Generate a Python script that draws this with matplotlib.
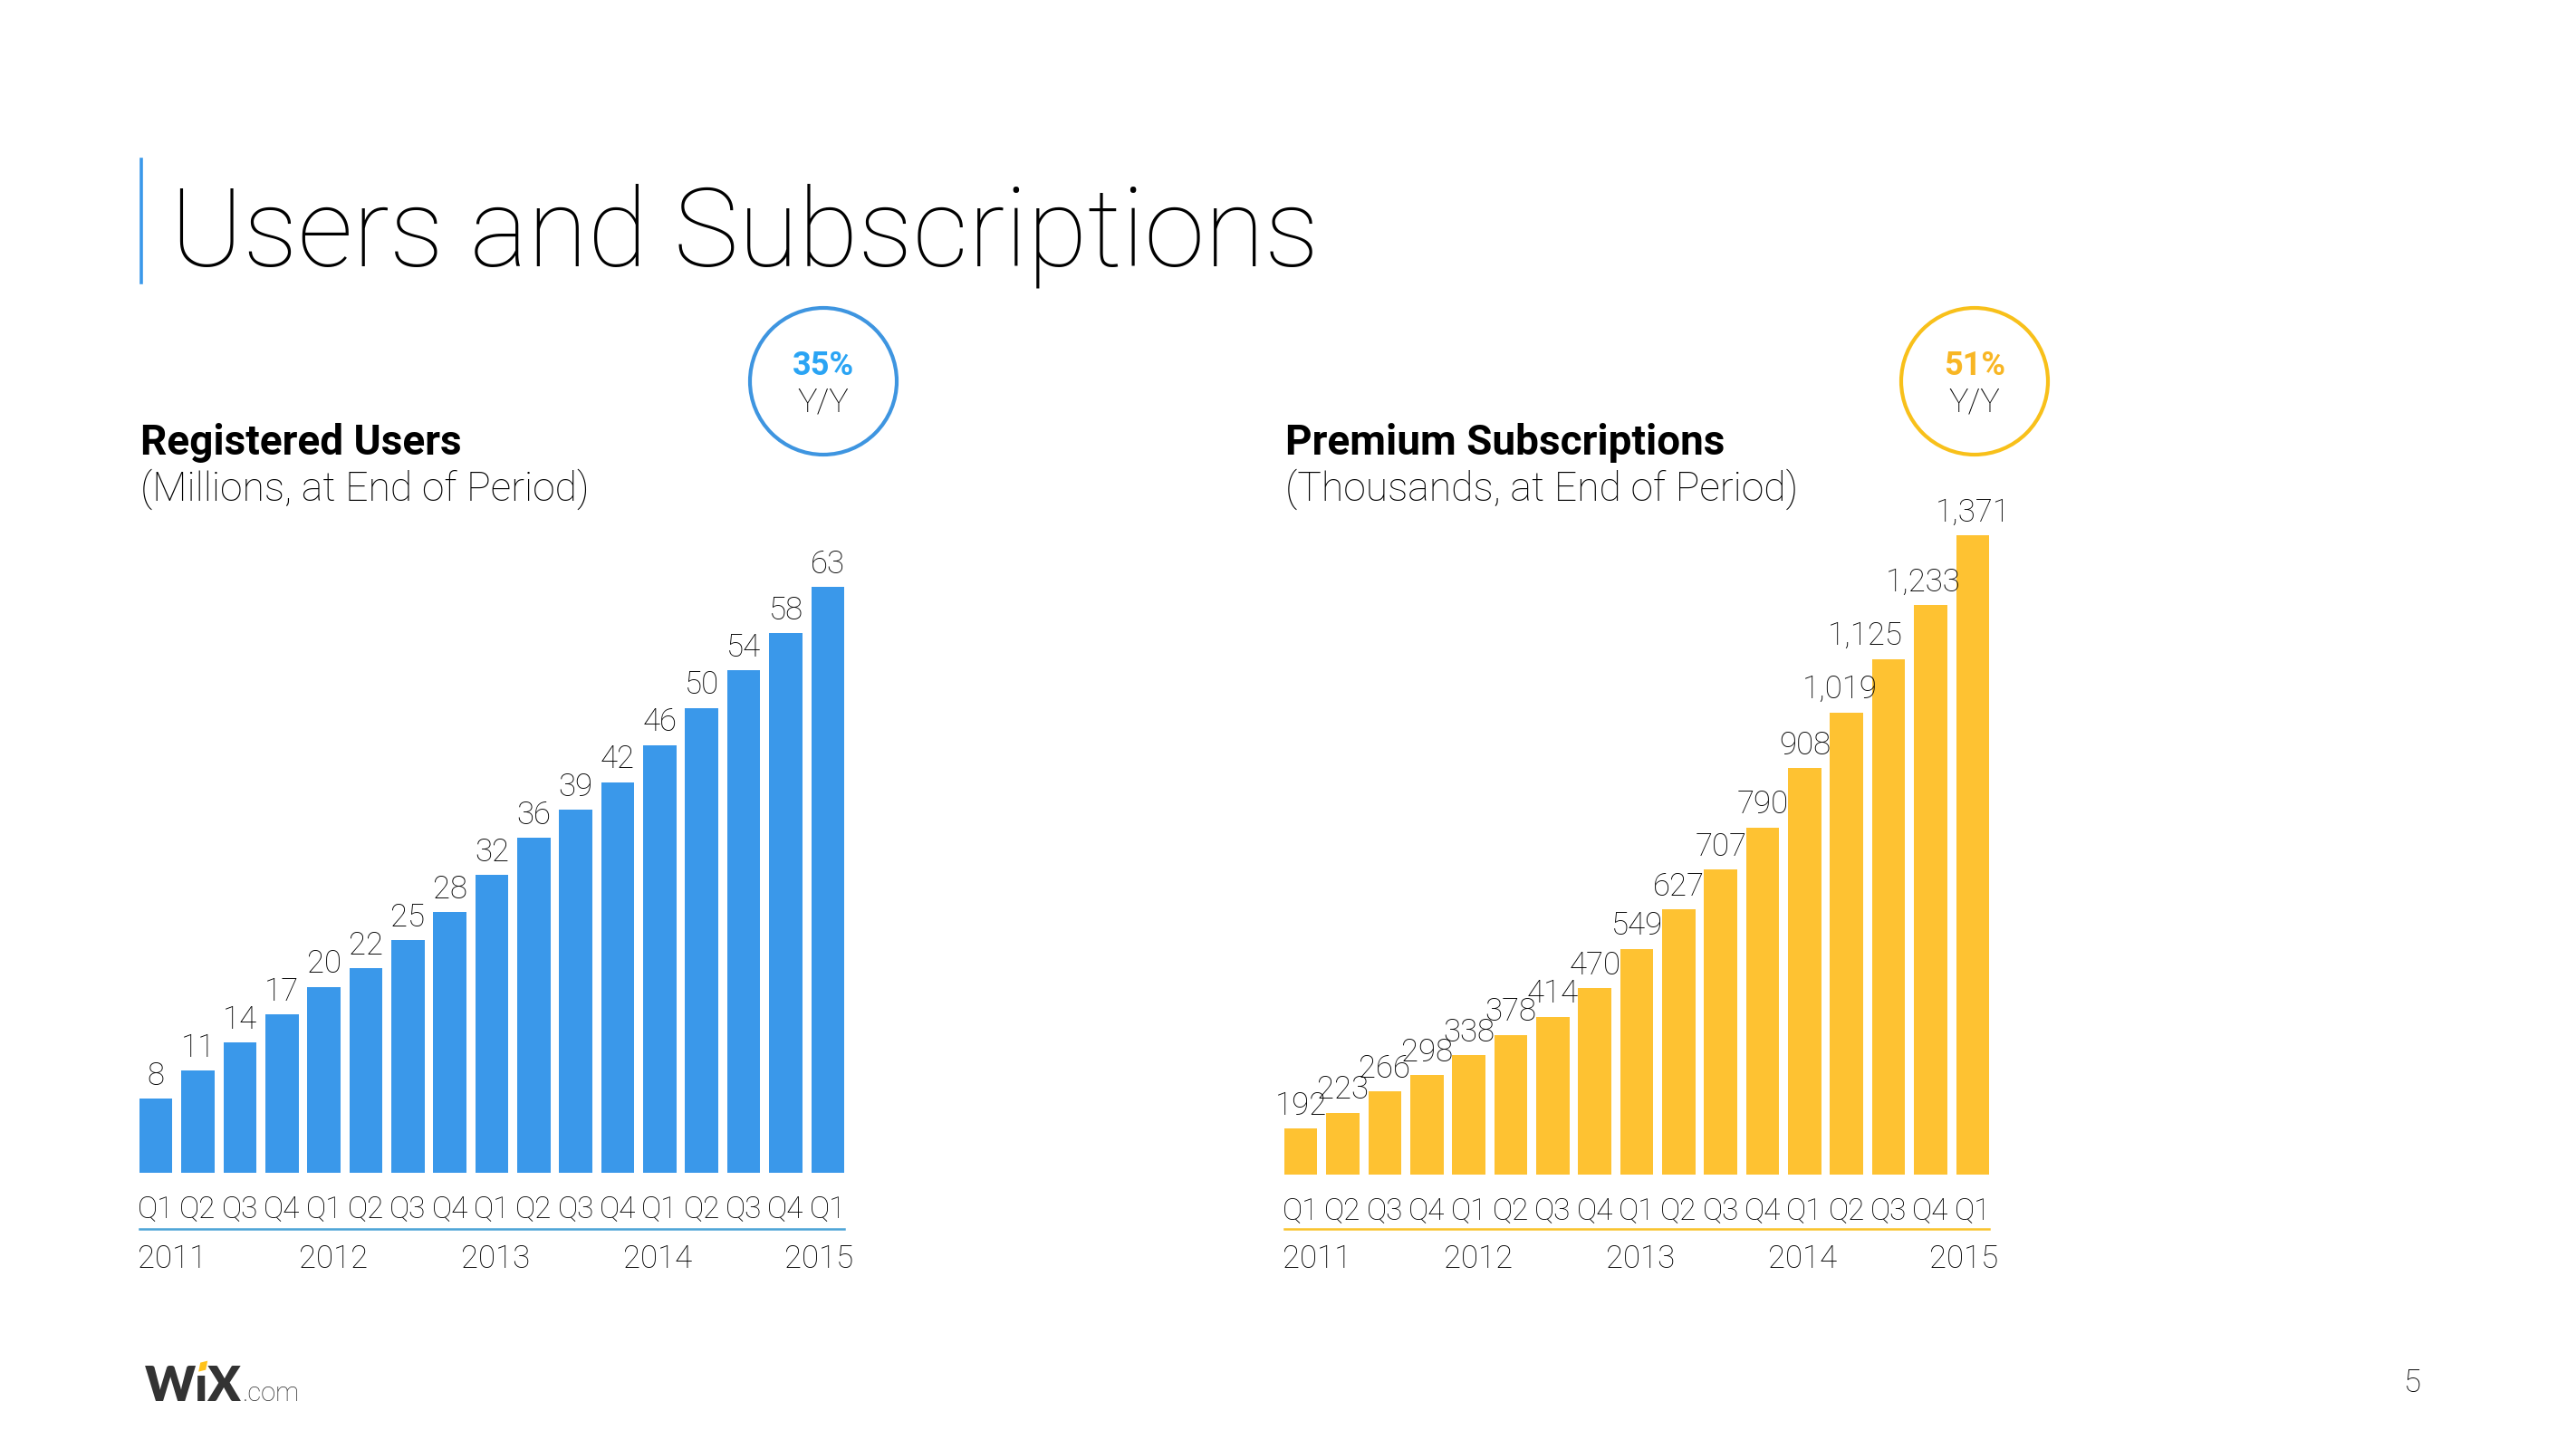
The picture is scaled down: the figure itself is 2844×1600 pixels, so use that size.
import matplotlib
matplotlib.use("Agg")
import matplotlib.pyplot as plt
import matplotlib.transforms as mtransforms
from matplotlib.lines import Line2D
from matplotlib.patches import Circle, Polygon
import numpy as np

# ---------------- data ----------------
quarters = ["Q1", "Q2", "Q3", "Q4"] * 4 + ["Q1"]
years = ["2011", "2012", "2013", "2014", "2015"]
users = [8, 11, 14, 17, 20, 22, 25, 28, 32, 36, 39, 42, 46, 50, 54, 58, 63]
subs = [192, 223, 266, 298, 338, 378, 414, 470, 549, 627, 707, 790, 908,
        1019, 1125, 1233, 1371]
users_growth = "35%"
subs_growth = "51%"

# ---------------- style ----------------
W, H = 2844, 1600
DPI = 200
BLUE = "#3A98EA"
BLUE_LINE = "#4BA3D6"
BLUE_TXT = "#2AA4F4"
YELLOW = "#FEC232"
YELLOW_LINE = "#F9C22A"
YELLOW_TXT = "#F8B624"
TXT = "#000000"
FONT = "Roboto"
LBL_W = "light"

plt.rcParams["font.family"] = [FONT, "DejaVu Sans"]

fig = plt.figure(figsize=(W / DPI, H / DPI), dpi=DPI)
fig.patch.set_facecolor("white")


def fx(px):
    return px / W


def fy(py):
    return 1 - py / H


# Title
fig.add_artist(Line2D([fx(156), fx(156)], [fy(176), fy(312)], color=BLUE, lw=1.3))
fig.text(fx(188), fy(294), "Users and Subscriptions", fontsize=43.5, fontweight="light",
         color="#000000", va="baseline", ha="left")

BAR_W = 0.79


def make_chart(left_px, bottom_px, top_px, values, ymin, ytop, color, line_color,
               title, subtitle, label_fmt, label_dx, circle_center, growth, growth_color,
               circle_color):
    ax = fig.add_axes([fx(left_px), fy(bottom_px), fx(788), (bottom_px - top_px) / H])
    x = np.arange(len(values))
    ax.bar(x, values, width=BAR_W, color=color, zorder=2)
    ax.set_xlim(-0.5, len(values) - 0.5)
    ax.set_ylim(ymin, ytop)
    for s in ax.spines.values():
        s.set_visible(False)
    ax.set_yticks([])
    ax.set_xticks(x, quarters)
    ax.tick_params(axis="x", length=0, pad=8.5, labelsize=12, labelcolor=TXT)
    for t in ax.get_xticklabels():
        t.set_fontweight(LBL_W)
    # value labels
    for i, v in enumerate(values):
        ax.annotate(label_fmt(v), xy=(i + label_dx.get(i, 0.0), v), xytext=(0, 5.5),
                    textcoords="offset points", ha="center", va="baseline",
                    fontsize=12.5, fontweight=LBL_W, color=TXT, clip_on=False)
    # underline
    bt = mtransforms.blended_transform_factory(ax.transData, fig.transFigure)
    ax.add_artist(Line2D([-BAR_W / 2, len(values) - 1 + BAR_W / 2], [fy(1357), fy(1357)],
                         transform=bt, color=line_color, lw=0.9, clip_on=False))
    # years
    ypos = np.linspace(0.38, 15.8, len(years))
    for yr, xp in zip(years, ypos):
        ax.text(xp, fy(1390), yr, transform=bt, ha="center", va="center",
                fontsize=12.5, fontweight=LBL_W, color=TXT)
    # headings
    fig.text(fx(left_px + 6), fy(502), title, fontsize=16.5, fontweight="bold",
             color="#000000", va="baseline", ha="left")
    fig.text(fx(left_px + 6), fy(553), subtitle, fontsize=16, fontweight="light",
             color="#000000", va="baseline", ha="left")
    # growth circle (round in pixel space)
    cx, cy = circle_center
    circ = Circle((cx, H - cy), radius=81, transform=None, fill=False,
                  edgecolor=circle_color, lw=1.5)
    fig.add_artist(circ)
    fig.text(fx(cx), fy(404), growth, fontsize=13, fontweight="bold",
             color=growth_color, ha="center", va="center")
    fig.text(fx(cx), fy(444), "Y/Y", fontsize=13, fontweight=LBL_W,
             color=TXT, ha="center", va="center")
    return ax


ax1 = make_chart(149, 1295, 648, users, 0, 63, BLUE, BLUE_LINE,
                 "Registered Users", "(Millions, at End of Period)",
                 lambda v: f"{v}", {}, (909, 421), users_growth, BLUE_TXT, "#3E95E0")

ax2 = make_chart(1413, 1297, 591, subs, 100, 1371, YELLOW, YELLOW_LINE,
                 "Premium Subscriptions", "(Thousands, at End of Period)",
                 lambda v: f"{v:,}", {13: -0.17, 14: -0.56, 15: -0.18}, (2180, 421),
                 subs_growth, YELLOW_TXT, "#F8C01A")

# page number
fig.text(fx(2663), fy(1527), "5", fontsize=12.5, fontweight=LBL_W, color=TXT,
         ha="center", va="center")

# Wix logo
r = fig.canvas.get_renderer()
LOGO_FAM = ["Lato", "DejaVu Sans"]
t1 = fig.text(fx(160), fy(1547), "WıX", fontsize=19, fontweight="heavy",
              color="#333333", ha="left", va="baseline", family=LOGO_FAM)
bb = t1.get_window_extent(r)
fig.text(bb.x1 / W + 0.0005, fy(1547), ".com", fontsize=10.5, fontweight="light",
         color="#333333", ha="left", va="baseline")
tw = fig.text(fx(160), fy(1547), "W", fontsize=19, fontweight="heavy", alpha=0,
              ha="left", va="baseline", family=LOGO_FAM)
bw = tw.get_window_extent(r)
ti = fig.text(bw.x1 / W, fy(1547), "ı", fontsize=19, fontweight="heavy", alpha=0,
              ha="left", va="baseline", family=LOGO_FAM)
bi = ti.get_window_extent(r)
icx = (bi.x0 + bi.x1) / 2
ytop = H - 1547 + bb.height * 0.62
dot = Polygon([(icx - 4, ytop + 2), (icx + 4, ytop + 4), (icx + 6, ytop + 14), (icx - 2, ytop + 12)],
              closed=True, transform=None, facecolor="#FFC21A", edgecolor="none")
fig.add_artist(dot)

fig.savefig("out.png", dpi=DPI, facecolor="white")
